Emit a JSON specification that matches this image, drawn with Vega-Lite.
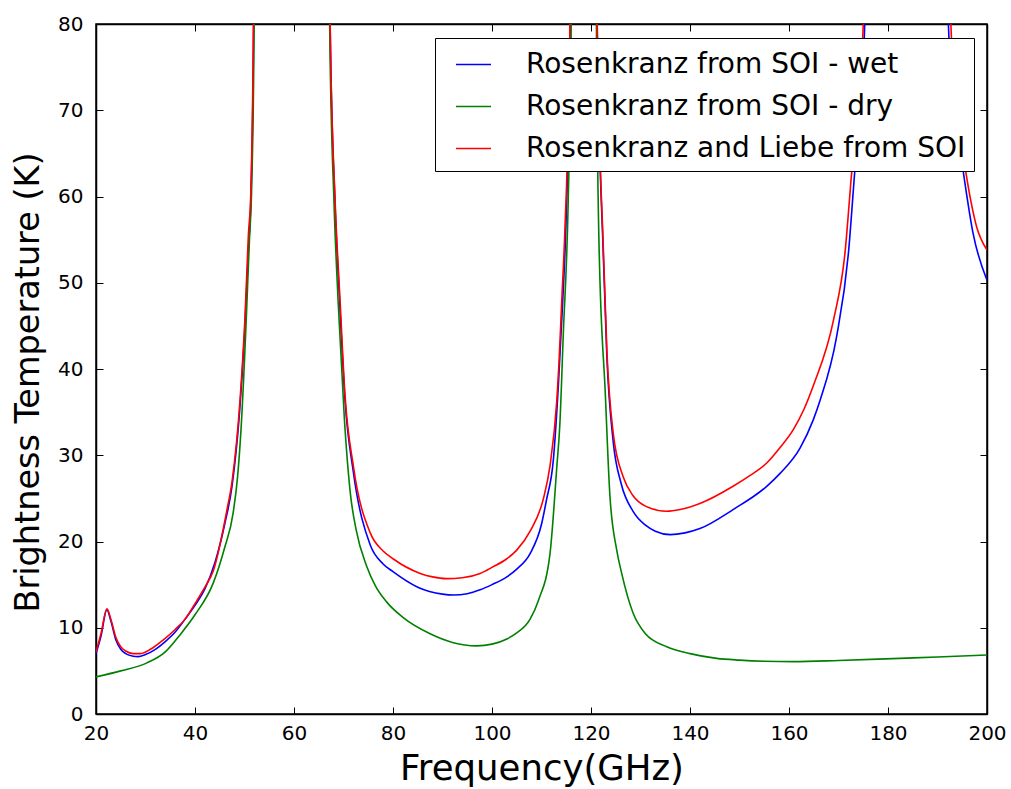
{
  "$schema": "https://vega.github.io/schema/vega-lite/v6.json",
  "autosize": {"type": "none"},
  "padding": {"left": 96, "top": 24, "right": 24, "bottom": 75},
  "width": 891,
  "height": 690,
  "background": "white",
  "config": {
    "font": "DejaVu Sans",
    "view": {"stroke": "black", "strokeWidth": 1.5},
    "axis": {
      "grid": false,
      "labelFlush": false,
      "domainColor": "black",
      "domainWidth": 1.5,
      "tickColor": "black",
      "tickWidth": 1,
      "tickSize": -7,
      "labelFont": "DejaVu Sans",
      "labelFontSize": 20,
      "labelColor": "black",
      "titleFont": "DejaVu Sans",
      "titleFontWeight": "normal",
      "titleColor": "black",
      "titleFontSize": 34
    },
    "legend": {
      "strokeColor": "black",
      "fillColor": "white",
      "padding": 8,
      "cornerRadius": 0
    }
  },
  "datasets": {
    "curves": [
      {"f": 20, "T": 7.0, "s": "Rosenkranz from SOI - wet"},
      {"f": 21, "T": 9.0, "s": "Rosenkranz from SOI - wet"},
      {"f": 22.2, "T": 12.1, "s": "Rosenkranz from SOI - wet"},
      {"f": 23, "T": 10.8, "s": "Rosenkranz from SOI - wet"},
      {"f": 24, "T": 8.6, "s": "Rosenkranz from SOI - wet"},
      {"f": 25, "T": 7.5, "s": "Rosenkranz from SOI - wet"},
      {"f": 26, "T": 7.0, "s": "Rosenkranz from SOI - wet"},
      {"f": 27.5, "T": 6.7, "s": "Rosenkranz from SOI - wet"},
      {"f": 28.5, "T": 6.65, "s": "Rosenkranz from SOI - wet"},
      {"f": 30, "T": 6.9, "s": "Rosenkranz from SOI - wet"},
      {"f": 32, "T": 7.5, "s": "Rosenkranz from SOI - wet"},
      {"f": 34, "T": 8.4, "s": "Rosenkranz from SOI - wet"},
      {"f": 36, "T": 9.5, "s": "Rosenkranz from SOI - wet"},
      {"f": 38, "T": 11.0, "s": "Rosenkranz from SOI - wet"},
      {"f": 40, "T": 12.6, "s": "Rosenkranz from SOI - wet"},
      {"f": 42, "T": 14.5, "s": "Rosenkranz from SOI - wet"},
      {"f": 44, "T": 17.5, "s": "Rosenkranz from SOI - wet"},
      {"f": 46, "T": 22, "s": "Rosenkranz from SOI - wet"},
      {"f": 47.5, "T": 26.5, "s": "Rosenkranz from SOI - wet"},
      {"f": 49, "T": 35, "s": "Rosenkranz from SOI - wet"},
      {"f": 50, "T": 44, "s": "Rosenkranz from SOI - wet"},
      {"f": 50.8, "T": 54, "s": "Rosenkranz from SOI - wet"},
      {"f": 51.3, "T": 60, "s": "Rosenkranz from SOI - wet"},
      {"f": 51.85, "T": 80, "s": "Rosenkranz from SOI - wet"},
      {"f": 52.4, "T": 150, "s": "Rosenkranz from SOI - wet"},
      {"f": 56, "T": 230, "s": "Rosenkranz from SOI - wet"},
      {"f": 60, "T": 250, "s": "Rosenkranz from SOI - wet"},
      {"f": 64, "T": 230, "s": "Rosenkranz from SOI - wet"},
      {"f": 66.8, "T": 150, "s": "Rosenkranz from SOI - wet"},
      {"f": 67.3, "T": 80, "s": "Rosenkranz from SOI - wet"},
      {"f": 68.3, "T": 59, "s": "Rosenkranz from SOI - wet"},
      {"f": 69.2, "T": 48, "s": "Rosenkranz from SOI - wet"},
      {"f": 70.3, "T": 36.4, "s": "Rosenkranz from SOI - wet"},
      {"f": 72, "T": 28, "s": "Rosenkranz from SOI - wet"},
      {"f": 75.4, "T": 19.6, "s": "Rosenkranz from SOI - wet"},
      {"f": 78, "T": 17.4, "s": "Rosenkranz from SOI - wet"},
      {"f": 80, "T": 16.5, "s": "Rosenkranz from SOI - wet"},
      {"f": 85, "T": 14.7, "s": "Rosenkranz from SOI - wet"},
      {"f": 90, "T": 13.9, "s": "Rosenkranz from SOI - wet"},
      {"f": 92.2, "T": 13.8, "s": "Rosenkranz from SOI - wet"},
      {"f": 95, "T": 13.95, "s": "Rosenkranz from SOI - wet"},
      {"f": 97.6, "T": 14.4, "s": "Rosenkranz from SOI - wet"},
      {"f": 100, "T": 15.0, "s": "Rosenkranz from SOI - wet"},
      {"f": 103, "T": 15.9, "s": "Rosenkranz from SOI - wet"},
      {"f": 105, "T": 16.8, "s": "Rosenkranz from SOI - wet"},
      {"f": 107.7, "T": 18.6, "s": "Rosenkranz from SOI - wet"},
      {"f": 110, "T": 22, "s": "Rosenkranz from SOI - wet"},
      {"f": 111, "T": 24.8, "s": "Rosenkranz from SOI - wet"},
      {"f": 112.4, "T": 29.5, "s": "Rosenkranz from SOI - wet"},
      {"f": 113.4, "T": 38, "s": "Rosenkranz from SOI - wet"},
      {"f": 114.3, "T": 48, "s": "Rosenkranz from SOI - wet"},
      {"f": 114.9, "T": 56, "s": "Rosenkranz from SOI - wet"},
      {"f": 115.8, "T": 80, "s": "Rosenkranz from SOI - wet"},
      {"f": 116.5, "T": 150, "s": "Rosenkranz from SOI - wet"},
      {"f": 118.75, "T": 220, "s": "Rosenkranz from SOI - wet"},
      {"f": 120.9, "T": 150, "s": "Rosenkranz from SOI - wet"},
      {"f": 121.25, "T": 80, "s": "Rosenkranz from SOI - wet"},
      {"f": 122.5, "T": 53, "s": "Rosenkranz from SOI - wet"},
      {"f": 123.2, "T": 41.5, "s": "Rosenkranz from SOI - wet"},
      {"f": 124.5, "T": 31.5, "s": "Rosenkranz from SOI - wet"},
      {"f": 126.1, "T": 26.7, "s": "Rosenkranz from SOI - wet"},
      {"f": 128.5, "T": 23.5, "s": "Rosenkranz from SOI - wet"},
      {"f": 131, "T": 21.9, "s": "Rosenkranz from SOI - wet"},
      {"f": 133, "T": 21.2, "s": "Rosenkranz from SOI - wet"},
      {"f": 136, "T": 20.8, "s": "Rosenkranz from SOI - wet"},
      {"f": 139, "T": 21.0, "s": "Rosenkranz from SOI - wet"},
      {"f": 142, "T": 21.5, "s": "Rosenkranz from SOI - wet"},
      {"f": 148.7, "T": 23.7, "s": "Rosenkranz from SOI - wet"},
      {"f": 155.5, "T": 26.4, "s": "Rosenkranz from SOI - wet"},
      {"f": 158.2, "T": 27.9, "s": "Rosenkranz from SOI - wet"},
      {"f": 162.2, "T": 30.8, "s": "Rosenkranz from SOI - wet"},
      {"f": 164.9, "T": 34.1, "s": "Rosenkranz from SOI - wet"},
      {"f": 166.3, "T": 36.4, "s": "Rosenkranz from SOI - wet"},
      {"f": 169.6, "T": 43.7, "s": "Rosenkranz from SOI - wet"},
      {"f": 172, "T": 53.4, "s": "Rosenkranz from SOI - wet"},
      {"f": 173.3, "T": 63, "s": "Rosenkranz from SOI - wet"},
      {"f": 174.3, "T": 70, "s": "Rosenkranz from SOI - wet"},
      {"f": 175.3, "T": 80, "s": "Rosenkranz from SOI - wet"},
      {"f": 176, "T": 150, "s": "Rosenkranz from SOI - wet"},
      {"f": 183.3, "T": 250, "s": "Rosenkranz from SOI - wet"},
      {"f": 191.5, "T": 150, "s": "Rosenkranz from SOI - wet"},
      {"f": 192.2, "T": 80, "s": "Rosenkranz from SOI - wet"},
      {"f": 193.5, "T": 70, "s": "Rosenkranz from SOI - wet"},
      {"f": 195.2, "T": 62.9, "s": "Rosenkranz from SOI - wet"},
      {"f": 197.2, "T": 55.7, "s": "Rosenkranz from SOI - wet"},
      {"f": 200, "T": 50.3, "s": "Rosenkranz from SOI - wet"},

      {"f": 20, "T": 4.3, "s": "Rosenkranz from SOI - dry"},
      {"f": 25, "T": 5.0, "s": "Rosenkranz from SOI - dry"},
      {"f": 30.2, "T": 5.9, "s": "Rosenkranz from SOI - dry"},
      {"f": 34, "T": 7.2, "s": "Rosenkranz from SOI - dry"},
      {"f": 37, "T": 9.2, "s": "Rosenkranz from SOI - dry"},
      {"f": 40, "T": 11.5, "s": "Rosenkranz from SOI - dry"},
      {"f": 43.7, "T": 15.2, "s": "Rosenkranz from SOI - dry"},
      {"f": 46, "T": 19.3, "s": "Rosenkranz from SOI - dry"},
      {"f": 47.7, "T": 23.3, "s": "Rosenkranz from SOI - dry"},
      {"f": 48.6, "T": 27.5, "s": "Rosenkranz from SOI - dry"},
      {"f": 49.3, "T": 33, "s": "Rosenkranz from SOI - dry"},
      {"f": 50.3, "T": 45, "s": "Rosenkranz from SOI - dry"},
      {"f": 51, "T": 55, "s": "Rosenkranz from SOI - dry"},
      {"f": 51.4, "T": 60, "s": "Rosenkranz from SOI - dry"},
      {"f": 51.95, "T": 80, "s": "Rosenkranz from SOI - dry"},
      {"f": 52.5, "T": 150, "s": "Rosenkranz from SOI - dry"},
      {"f": 56, "T": 230, "s": "Rosenkranz from SOI - dry"},
      {"f": 60, "T": 250, "s": "Rosenkranz from SOI - dry"},
      {"f": 64, "T": 230, "s": "Rosenkranz from SOI - dry"},
      {"f": 66.6, "T": 150, "s": "Rosenkranz from SOI - dry"},
      {"f": 67.2, "T": 80, "s": "Rosenkranz from SOI - dry"},
      {"f": 68.1, "T": 59, "s": "Rosenkranz from SOI - dry"},
      {"f": 68.9, "T": 48, "s": "Rosenkranz from SOI - dry"},
      {"f": 70.2, "T": 34, "s": "Rosenkranz from SOI - dry"},
      {"f": 71.4, "T": 25.5, "s": "Rosenkranz from SOI - dry"},
      {"f": 72.5, "T": 21.5, "s": "Rosenkranz from SOI - dry"},
      {"f": 74.7, "T": 17.1, "s": "Rosenkranz from SOI - dry"},
      {"f": 76.5, "T": 14.8, "s": "Rosenkranz from SOI - dry"},
      {"f": 78.7, "T": 13.0, "s": "Rosenkranz from SOI - dry"},
      {"f": 82, "T": 11.2, "s": "Rosenkranz from SOI - dry"},
      {"f": 87.5, "T": 9.3, "s": "Rosenkranz from SOI - dry"},
      {"f": 92, "T": 8.3, "s": "Rosenkranz from SOI - dry"},
      {"f": 96.9, "T": 7.9, "s": "Rosenkranz from SOI - dry"},
      {"f": 100, "T": 8.1, "s": "Rosenkranz from SOI - dry"},
      {"f": 103, "T": 8.7, "s": "Rosenkranz from SOI - dry"},
      {"f": 105, "T": 9.4, "s": "Rosenkranz from SOI - dry"},
      {"f": 107.7, "T": 11.0, "s": "Rosenkranz from SOI - dry"},
      {"f": 109.4, "T": 13.2, "s": "Rosenkranz from SOI - dry"},
      {"f": 111.7, "T": 18.5, "s": "Rosenkranz from SOI - dry"},
      {"f": 113.1, "T": 28.7, "s": "Rosenkranz from SOI - dry"},
      {"f": 113.7, "T": 33.5, "s": "Rosenkranz from SOI - dry"},
      {"f": 114.4, "T": 44, "s": "Rosenkranz from SOI - dry"},
      {"f": 115.4, "T": 59.6, "s": "Rosenkranz from SOI - dry"},
      {"f": 116, "T": 80, "s": "Rosenkranz from SOI - dry"},
      {"f": 116.7, "T": 150, "s": "Rosenkranz from SOI - dry"},
      {"f": 118.75, "T": 220, "s": "Rosenkranz from SOI - dry"},
      {"f": 120.7, "T": 150, "s": "Rosenkranz from SOI - dry"},
      {"f": 121.1, "T": 80, "s": "Rosenkranz from SOI - dry"},
      {"f": 121.6, "T": 55, "s": "Rosenkranz from SOI - dry"},
      {"f": 122.9, "T": 37, "s": "Rosenkranz from SOI - dry"},
      {"f": 123.8, "T": 25.5, "s": "Rosenkranz from SOI - dry"},
      {"f": 125.2, "T": 19, "s": "Rosenkranz from SOI - dry"},
      {"f": 126.2, "T": 16.3, "s": "Rosenkranz from SOI - dry"},
      {"f": 128.5, "T": 11.7, "s": "Rosenkranz from SOI - dry"},
      {"f": 131, "T": 9.3, "s": "Rosenkranz from SOI - dry"},
      {"f": 135.3, "T": 7.8, "s": "Rosenkranz from SOI - dry"},
      {"f": 140, "T": 7.0, "s": "Rosenkranz from SOI - dry"},
      {"f": 145.4, "T": 6.45, "s": "Rosenkranz from SOI - dry"},
      {"f": 150, "T": 6.25, "s": "Rosenkranz from SOI - dry"},
      {"f": 155, "T": 6.12, "s": "Rosenkranz from SOI - dry"},
      {"f": 160.9, "T": 6.07, "s": "Rosenkranz from SOI - dry"},
      {"f": 170, "T": 6.2, "s": "Rosenkranz from SOI - dry"},
      {"f": 182.4, "T": 6.45, "s": "Rosenkranz from SOI - dry"},
      {"f": 190, "T": 6.6, "s": "Rosenkranz from SOI - dry"},
      {"f": 200, "T": 6.84, "s": "Rosenkranz from SOI - dry"},

      {"f": 20, "T": 7.2, "s": "Rosenkranz and Liebe from SOI"},
      {"f": 21, "T": 9.3, "s": "Rosenkranz and Liebe from SOI"},
      {"f": 22.2, "T": 12.2, "s": "Rosenkranz and Liebe from SOI"},
      {"f": 23, "T": 11.0, "s": "Rosenkranz and Liebe from SOI"},
      {"f": 24, "T": 8.9, "s": "Rosenkranz and Liebe from SOI"},
      {"f": 25, "T": 7.8, "s": "Rosenkranz and Liebe from SOI"},
      {"f": 26, "T": 7.3, "s": "Rosenkranz and Liebe from SOI"},
      {"f": 27.5, "T": 7.0, "s": "Rosenkranz and Liebe from SOI"},
      {"f": 29, "T": 7.0, "s": "Rosenkranz and Liebe from SOI"},
      {"f": 31, "T": 7.5, "s": "Rosenkranz and Liebe from SOI"},
      {"f": 33.6, "T": 8.6, "s": "Rosenkranz and Liebe from SOI"},
      {"f": 36, "T": 9.8, "s": "Rosenkranz and Liebe from SOI"},
      {"f": 38, "T": 11.0, "s": "Rosenkranz and Liebe from SOI"},
      {"f": 40, "T": 12.8, "s": "Rosenkranz and Liebe from SOI"},
      {"f": 42, "T": 14.7, "s": "Rosenkranz and Liebe from SOI"},
      {"f": 43.7, "T": 16.6, "s": "Rosenkranz and Liebe from SOI"},
      {"f": 46.4, "T": 23.5, "s": "Rosenkranz and Liebe from SOI"},
      {"f": 47.5, "T": 27, "s": "Rosenkranz and Liebe from SOI"},
      {"f": 49.1, "T": 36.4, "s": "Rosenkranz and Liebe from SOI"},
      {"f": 50.1, "T": 46, "s": "Rosenkranz and Liebe from SOI"},
      {"f": 50.8, "T": 55.7, "s": "Rosenkranz and Liebe from SOI"},
      {"f": 51.25, "T": 60, "s": "Rosenkranz and Liebe from SOI"},
      {"f": 51.8, "T": 80, "s": "Rosenkranz and Liebe from SOI"},
      {"f": 52.3, "T": 150, "s": "Rosenkranz and Liebe from SOI"},
      {"f": 56, "T": 230, "s": "Rosenkranz and Liebe from SOI"},
      {"f": 60, "T": 250, "s": "Rosenkranz and Liebe from SOI"},
      {"f": 64, "T": 230, "s": "Rosenkranz and Liebe from SOI"},
      {"f": 66.8, "T": 150, "s": "Rosenkranz and Liebe from SOI"},
      {"f": 67.3, "T": 80, "s": "Rosenkranz and Liebe from SOI"},
      {"f": 68.3, "T": 59.6, "s": "Rosenkranz and Liebe from SOI"},
      {"f": 69.3, "T": 48, "s": "Rosenkranz and Liebe from SOI"},
      {"f": 70.3, "T": 37, "s": "Rosenkranz and Liebe from SOI"},
      {"f": 72, "T": 28.7, "s": "Rosenkranz and Liebe from SOI"},
      {"f": 75.4, "T": 21.0, "s": "Rosenkranz and Liebe from SOI"},
      {"f": 78, "T": 18.9, "s": "Rosenkranz and Liebe from SOI"},
      {"f": 80, "T": 18.0, "s": "Rosenkranz and Liebe from SOI"},
      {"f": 85.5, "T": 16.3, "s": "Rosenkranz and Liebe from SOI"},
      {"f": 88, "T": 15.9, "s": "Rosenkranz and Liebe from SOI"},
      {"f": 90.8, "T": 15.7, "s": "Rosenkranz and Liebe from SOI"},
      {"f": 94, "T": 15.8, "s": "Rosenkranz and Liebe from SOI"},
      {"f": 97.6, "T": 16.3, "s": "Rosenkranz and Liebe from SOI"},
      {"f": 100, "T": 17.0, "s": "Rosenkranz and Liebe from SOI"},
      {"f": 103, "T": 18.0, "s": "Rosenkranz and Liebe from SOI"},
      {"f": 105, "T": 19.0, "s": "Rosenkranz and Liebe from SOI"},
      {"f": 107.7, "T": 21.2, "s": "Rosenkranz and Liebe from SOI"},
      {"f": 110.4, "T": 25.0, "s": "Rosenkranz and Liebe from SOI"},
      {"f": 111.7, "T": 28.7, "s": "Rosenkranz and Liebe from SOI"},
      {"f": 113.1, "T": 36.4, "s": "Rosenkranz and Liebe from SOI"},
      {"f": 113.5, "T": 40.3, "s": "Rosenkranz and Liebe from SOI"},
      {"f": 114.1, "T": 48, "s": "Rosenkranz and Liebe from SOI"},
      {"f": 114.7, "T": 55.7, "s": "Rosenkranz and Liebe from SOI"},
      {"f": 115.75, "T": 80, "s": "Rosenkranz and Liebe from SOI"},
      {"f": 116.5, "T": 150, "s": "Rosenkranz and Liebe from SOI"},
      {"f": 118.75, "T": 220, "s": "Rosenkranz and Liebe from SOI"},
      {"f": 120.9, "T": 150, "s": "Rosenkranz and Liebe from SOI"},
      {"f": 121.25, "T": 80, "s": "Rosenkranz and Liebe from SOI"},
      {"f": 122.5, "T": 53.8, "s": "Rosenkranz and Liebe from SOI"},
      {"f": 123.2, "T": 42.2, "s": "Rosenkranz and Liebe from SOI"},
      {"f": 124.5, "T": 32.5, "s": "Rosenkranz and Liebe from SOI"},
      {"f": 126.5, "T": 27.5, "s": "Rosenkranz and Liebe from SOI"},
      {"f": 128.5, "T": 25.3, "s": "Rosenkranz and Liebe from SOI"},
      {"f": 131, "T": 24.1, "s": "Rosenkranz and Liebe from SOI"},
      {"f": 135.3, "T": 23.5, "s": "Rosenkranz and Liebe from SOI"},
      {"f": 138, "T": 23.7, "s": "Rosenkranz and Liebe from SOI"},
      {"f": 142, "T": 24.4, "s": "Rosenkranz and Liebe from SOI"},
      {"f": 148.7, "T": 26.4, "s": "Rosenkranz and Liebe from SOI"},
      {"f": 152, "T": 27.6, "s": "Rosenkranz and Liebe from SOI"},
      {"f": 155.5, "T": 29.1, "s": "Rosenkranz and Liebe from SOI"},
      {"f": 158.2, "T": 30.9, "s": "Rosenkranz and Liebe from SOI"},
      {"f": 160.9, "T": 33.0, "s": "Rosenkranz and Liebe from SOI"},
      {"f": 163, "T": 35.3, "s": "Rosenkranz and Liebe from SOI"},
      {"f": 165, "T": 38.2, "s": "Rosenkranz and Liebe from SOI"},
      {"f": 169, "T": 45.7, "s": "Rosenkranz and Liebe from SOI"},
      {"f": 171.3, "T": 53.4, "s": "Rosenkranz and Liebe from SOI"},
      {"f": 172.7, "T": 63, "s": "Rosenkranz and Liebe from SOI"},
      {"f": 173.9, "T": 70, "s": "Rosenkranz and Liebe from SOI"},
      {"f": 175.0, "T": 80, "s": "Rosenkranz and Liebe from SOI"},
      {"f": 175.7, "T": 150, "s": "Rosenkranz and Liebe from SOI"},
      {"f": 183.3, "T": 250, "s": "Rosenkranz and Liebe from SOI"},
      {"f": 192, "T": 150, "s": "Rosenkranz and Liebe from SOI"},
      {"f": 192.7, "T": 80, "s": "Rosenkranz and Liebe from SOI"},
      {"f": 194, "T": 70, "s": "Rosenkranz and Liebe from SOI"},
      {"f": 195.7, "T": 62.9, "s": "Rosenkranz and Liebe from SOI"},
      {"f": 197.9, "T": 56.5, "s": "Rosenkranz and Liebe from SOI"},
      {"f": 200, "T": 53.8, "s": "Rosenkranz and Liebe from SOI"}
    ]
  },
  "data": {"name": "curves"},
  "layer": [
    {
      "transform": [{"filter": "datum.s === 'Rosenkranz from SOI - wet'"}],
      "mark": {"type": "line", "clip": true, "strokeWidth": 1.6, "interpolate": "monotone"},
      "encoding": {
        "x": {"field": "f", "type": "quantitative", "scale": {"domain": [20, 200], "nice": false},
              "axis": {"orient": "bottom", "values": [20,40,60,80,100,120,140,160,180,200], "title": "Frequency(GHz)", "titleFontSize": 35.5, "labelPadding": 16, "titlePadding": 8}},
        "y": {"field": "T", "type": "quantitative", "scale": {"domain": [0, 80], "nice": false},
              "axis": {"orient": "left", "values": [0,10,20,30,40,50,60,70,80], "title": "Brightness Temperature (K)", "titleFontSize": 33.5, "titleY": 358, "labelPadding": 20, "titlePadding": 12}},
        "color": {"field": "s", "type": "nominal",
                  "scale": {"domain": ["Rosenkranz from SOI - wet", "Rosenkranz from SOI - dry", "Rosenkranz and Liebe from SOI"], "range": ["#0000ff", "#008000", "#ff0000"]},
                  "legend": {"title": null, "orient": "none", "legendX": 339, "legendY": 14, "symbolType": "stroke", "symbolSize": 1225, "symbolStrokeWidth": 1.6, "labelFontSize": 28, "labelFont": "DejaVu Sans", "labelColor": "black", "labelLimit": 0, "labelOffset": 34, "rowPadding": 9, "symbolOffset": 12}}
      }
    },
    {
      "transform": [{"filter": "datum.s === 'Rosenkranz from SOI - dry'"}],
      "mark": {"type": "line", "clip": true, "strokeWidth": 1.6, "interpolate": "monotone"},
      "encoding": {
        "x": {"field": "f", "type": "quantitative", "axis": null},
        "y": {"field": "T", "type": "quantitative", "axis": null},
        "color": {"field": "s", "type": "nominal"}
      }
    },
    {
      "transform": [{"filter": "datum.s === 'Rosenkranz and Liebe from SOI'"}],
      "mark": {"type": "line", "clip": true, "strokeWidth": 1.6, "interpolate": "monotone"},
      "encoding": {
        "x": {"field": "f", "type": "quantitative", "axis": null},
        "y": {"field": "T", "type": "quantitative", "axis": null},
        "color": {"field": "s", "type": "nominal"}
      }
    },
    {
      "mark": {"type": "line", "clip": true, "strokeOpacity": 0},
      "encoding": {
        "x": {"field": "f", "type": "quantitative",
              "axis": {"orient": "top", "values": [20,40,60,80,100,120,140,160,180,200], "labels": false, "title": null}},
        "y": {"field": "T", "type": "quantitative",
              "axis": {"orient": "right", "values": [0,10,20,30,40,50,60,70,80], "labels": false, "title": null}},
        "detail": {"field": "s"}
      }
    }
  ],
  "resolve": {"axis": {"x": "independent", "y": "independent"}}
}
